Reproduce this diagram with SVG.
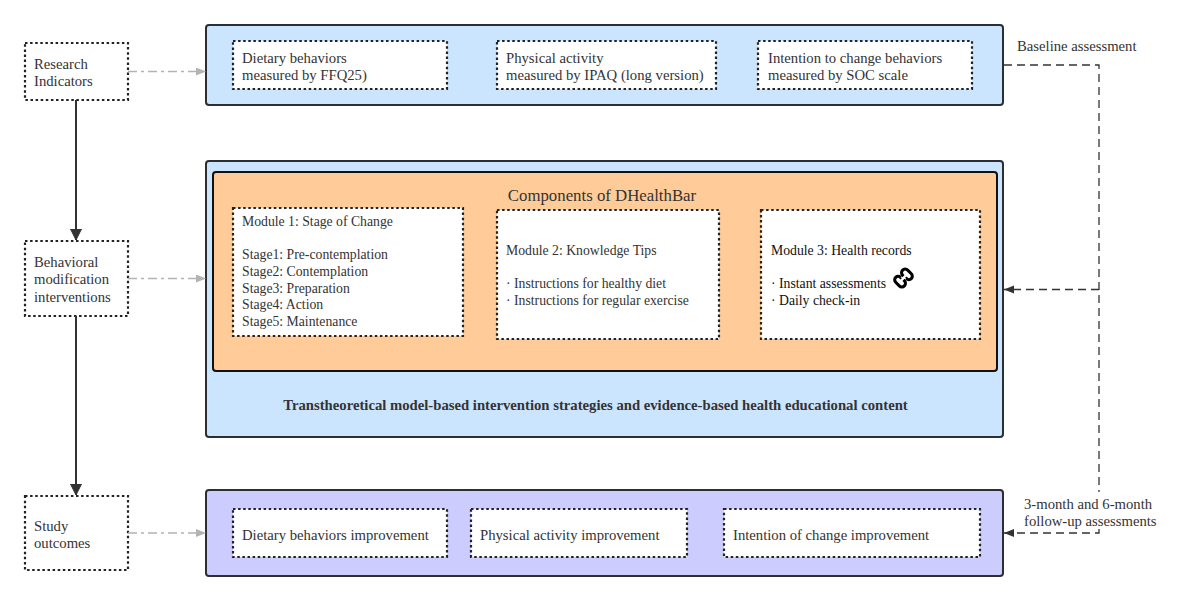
<svg xmlns="http://www.w3.org/2000/svg" width="1200" height="600" viewBox="0 0 1200 600">
<style>
text{font-family:"Liberation Serif","Times New Roman",serif;font-size:14.7px;fill:#333}
.m{font-size:13.72px}
.dark{fill:#111}
.dot{fill:#fff;stroke:#222;stroke-width:2.200;stroke-dasharray:2.500 2.600}
.pan{stroke:#2b2f33;stroke-width:2}
.blue{fill:#cce5ff}.org{fill:#ffcc99;stroke:#111}.pur{fill:#ccccff}
.g{fill:none;stroke:#b3b3b3;stroke-width:1.500;stroke-dasharray:9 4 3 4}
.d{fill:none;stroke:#333;stroke-width:1.300;stroke-dasharray:8 5}
.s{fill:none;stroke:#333;stroke-width:2}
</style>
<defs>
<marker id="ag" markerUnits="userSpaceOnUse" markerWidth="12" markerHeight="10" refX="10" refY="4" orient="auto"><path d="M0 0L10 4L0 8Z" fill="#b3b3b3"/></marker>
<marker id="ad" markerUnits="userSpaceOnUse" markerWidth="12" markerHeight="10" refX="10" refY="4" orient="auto"><path d="M0 0L10 4L0 8Z" fill="#333"/></marker>
<marker id="as" markerUnits="userSpaceOnUse" markerWidth="12" markerHeight="16" refX="11" refY="5.500" orient="auto"><path d="M0 0L11 5.500L0 11Z" fill="#333" stroke="#333"/></marker>
</defs>
<g id="research-indicators"><rect class="dot" x="25" y="43" width="103" height="57"/><text x="34" y="69">Research</text><text x="34" y="86">Indicators</text></g>
<g id="behavioral"><rect class="dot" x="25" y="241" width="103" height="75"/><text x="34" y="267">Behavioral</text><text x="34" y="284">modification</text><text x="34" y="302">interventions</text></g>
<g id="study-outcomes"><rect class="dot" x="25" y="496" width="103" height="74"/><text x="34" y="531">Study</text><text x="34" y="548">outcomes</text></g>
<g id="baseline-panel"><rect class="pan blue" x="206" y="25" width="797" height="80" rx="3"/>
<g id="dietary"><rect class="dot" x="233" y="41" width="214" height="48"/><text x="242" y="63">Dietary behaviors</text><text x="242" y="80">measured by FFQ25)</text></g>
<g id="physical"><rect class="dot" x="497" y="41" width="219" height="48"/><text x="506" y="63">Physical activity</text><text x="506" y="80">measured by IPAQ (long version)</text></g>
<g id="intention"><rect class="dot" x="758" y="41" width="214" height="48"/><text x="768" y="63">Intention to change behaviors</text><text x="768" y="80">measured by SOC scale</text></g></g>
<g id="intervention-panel"><rect class="pan blue" x="206" y="161" width="797" height="276" rx="3"/>
<rect class="pan org" x="213" y="172" width="784" height="199" rx="3"/>
<text x="602" y="201" text-anchor="middle" style="font-size:16.800px">Components of DHealthBar</text>
<text x="595.500" y="410" text-anchor="middle" font-weight="bold">Transtheoretical model-based intervention strategies and evidence-based health educational content</text>
<g id="module1"><rect class="dot" x="233" y="208" width="230" height="128"/><text class="m" x="242" y="226">Module 1: Stage of Change</text><text class="m" x="242" y="259">Stage1: Pre-contemplation</text><text class="m" x="242" y="276">Stage2: Contemplation</text><text class="m" x="242" y="292.500">Stage3: Preparation</text><text class="m" x="242" y="309">Stage4: Action</text><text class="m" x="242" y="326">Stage5: Maintenance</text></g>
<g id="module2"><rect class="dot" x="497" y="210" width="222" height="129"/><text class="m" x="506" y="255">Module 2: Knowledge Tips</text><text class="m" x="506" y="288">· Instructions for healthy diet</text><text class="m" x="506" y="305">· Instructions for regular exercise</text></g>
<g id="module3"><rect class="dot" x="761" y="210" width="219" height="129"/><text class="m dark" x="771" y="255">Module 3: Health records</text><text class="m dark" x="771" y="288">· Instant assessments</text><text class="m dark" x="771" y="305">· Daily check-in</text>
<g id="link-icon" transform="translate(903.500 278) rotate(45) scale(.85)" fill="none" stroke="#000" stroke-width="3.600"><path d="M-1.500 -2.500H-3A4 4 0 0 1 -3 -11H3A4 4 0 0 1 3 -3V-2.500" transform="translate(0 1)"/><path d="M1.500 2.500H3A4 4 0 0 1 3 11H-3A4 4 0 0 1 -3 3V2.500" transform="translate(0 -1)"/></g></g></g>
<g id="outcome-panel"><rect class="pan pur" x="206" y="490" width="797" height="86" rx="3"/>
<g id="o1"><rect class="dot" x="233" y="509" width="214" height="48"/><text x="242" y="540">Dietary behaviors improvement</text></g>
<g id="o2"><rect class="dot" x="471" y="509" width="216" height="48"/><text x="480" y="540">Physical activity improvement</text></g>
<g id="o3"><rect class="dot" x="724" y="509" width="256" height="48"/><text x="733" y="540">Intention of change improvement</text></g></g>
<g id="connectors">
<path class="s" d="M76 100V240" marker-end="url(#as)"/>
<path class="s" d="M76 316V495" marker-end="url(#as)"/>
<path class="g" d="M128 71.500H206" marker-end="url(#ag)"/>
<path class="g" d="M128 278.500H206" marker-end="url(#ag)"/>
<path class="g" d="M128 533H206" marker-end="url(#ag)"/>
<path class="d" d="M1004 65H1099V533H1004" marker-end="url(#ad)"/>
<path class="d" d="M1099 289.500H1004" marker-end="url(#ad)"/>
</g>
<rect x="1022" y="492" width="140" height="37" fill="#fff"/>
<text x="1017" y="51">Baseline assessment</text>
<text x="1024" y="509">3-month and 6-month</text><text x="1024" y="526">follow-up assessments</text>
</svg>
